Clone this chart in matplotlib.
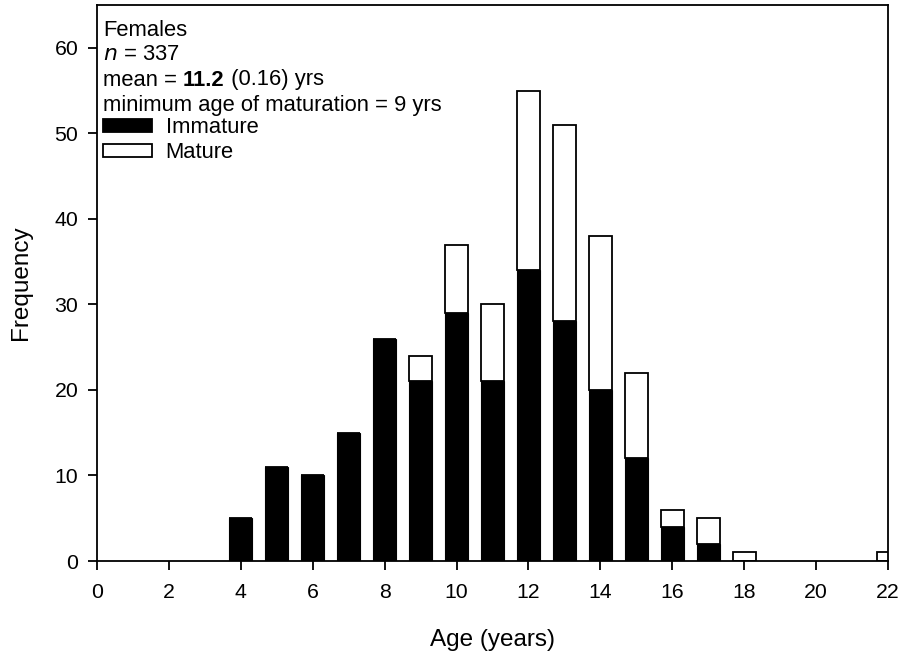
import matplotlib.pyplot as plt
from matplotlib.patches import Patch

plt.rcParams['font.family'] = ['Liberation Sans', 'DejaVu Sans']
plt.rcParams['font.size'] = 15.8

# data
ages = [4, 5, 6, 7, 8, 9, 10, 11, 12, 13, 14, 15, 16, 17, 18, 22]
immature = [5, 11, 10, 15, 26, 21, 29, 21, 34, 28, 20, 12, 4, 2, 0, 0]
mature = [0, 0, 0, 0, 0, 3, 8, 9, 21, 23, 18, 10, 2, 3, 1, 1]
xticks = list(range(0, 23, 2))
yticks = list(range(0, 61, 10))

fig = plt.figure(figsize=(9.03, 6.57), dpi=100)
ax = fig.add_axes([0.1074, 0.1461, 0.876, 0.8463])

ax.bar(ages, immature, width=0.64, color='black', edgecolor='black', linewidth=0.8)
ax.bar(ages, mature, bottom=immature, width=0.64, color='white', edgecolor='black', linewidth=1.3)

ax.set_xlim(0, 22)
ax.set_ylim(0, 65)
ax.set_xticks(xticks)
ax.set_yticks(yticks)
ax.tick_params(direction='out', length=6.5, width=1.3, labelsize=15.3)
ax.tick_params(axis='x', pad=9)
ax.tick_params(axis='y', pad=7)
for s in ax.spines.values():
    s.set_linewidth(1.3)

ax.set_xlabel('Age (years)', fontsize=17.5, labelpad=20)
ax.set_ylabel('Frequency', fontsize=17.5, labelpad=16)

# annotation block (figure pixel rows of each line centre)
def fy(px):
    return 1 - px / 657

x0 = 103 / 903
fig.text(x0, fy(30), 'Females', va='center')
fig.text(x0, fy(55), '$n$ = 337', va='center')
t3 = fig.text(x0, fy(80), 'mean = ', va='center')
t3b = ax.annotate('11.2', xy=(1, 0), xycoords=t3, va='bottom', fontweight='bold')
ax.annotate(' (0.16) yrs', xy=(1, 0), xycoords=t3b, va='bottom')
fig.text(x0, fy(105), 'minimum age of maturation = 9 yrs', va='center')

handles = [Patch(facecolor='black', edgecolor='black', linewidth=1.3, label='Immature'),
           Patch(facecolor='white', edgecolor='black', linewidth=1.3, label='Mature')]
fig.legend(handles=handles, loc='upper left', bbox_to_anchor=(x0, fy(117)),
           bbox_transform=fig.transFigure, frameon=False, borderpad=0.0,
           borderaxespad=0.0, handlelength=2.25, handleheight=0.55,
           handletextpad=0.6, labelspacing=0.18)

fig.savefig('out.png', dpi=100)
